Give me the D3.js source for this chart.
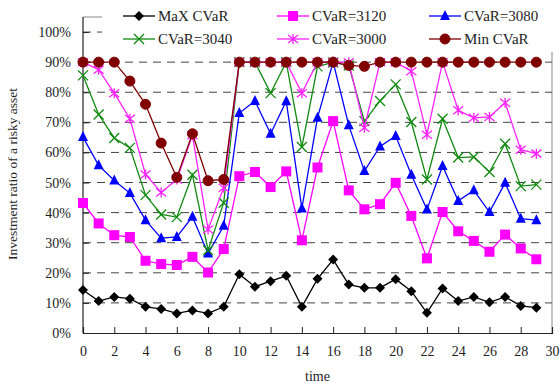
<!DOCTYPE html>
<html>
<head>
<meta charset="utf-8">
<script src="https://cdn.jsdelivr.net/npm/d3@7"></script>
<style>
  html, body { margin: 0; padding: 0; background: #fff; }
  svg { display: block; }
  text { font-family: "Liberation Serif", "DejaVu Serif", serif; fill: #222; }
</style>
</head>
<body>
<div id="chart"></div>
<script>
const time = d3.range(0, 30);
const seriesNames = ["MaX CVaR", "CVaR=3120", "CVaR=3080", "CVaR=3040", "CVaR=3000", "Min CVaR"];
const maxCVaR = [14.3, 10.6, 12.0, 11.4, 8.7, 8.0, 6.5, 7.5, 6.5, 8.7, 19.5, 15.4, 17.2, 19.0, 8.7, 18.0, 24.4, 16.1, 15.0, 15.0, 17.9, 13.9, 6.7, 14.8, 10.6, 12.0, 10.2, 12.0, 9.0, 8.4];
const cvar3120 = [43.2, 36.4, 32.5, 31.9, 24.0, 22.9, 22.6, 25.3, 20.1, 27.9, 52.1, 53.5, 48.5, 53.7, 30.8, 55.0, 70.4, 47.4, 41.1, 42.8, 49.9, 38.9, 24.8, 40.2, 33.8, 30.6, 27.0, 32.7, 28.1, 24.5];
const cvar3080 = [65.1, 55.7, 50.7, 46.5, 37.5, 31.5, 31.9, 38.6, 26.4, 35.6, 73.1, 77.1, 66.2, 77.0, 41.4, 71.5, 90.0, 69.0, 53.8, 62.0, 65.5, 52.6, 41.0, 55.5, 43.9, 47.4, 40.2, 49.9, 38.0, 37.5];
const cvar3040 = [85.6, 72.6, 64.8, 61.5, 45.8, 39.4, 38.5, 52.6, 27.5, 43.3, 90.0, 90.0, 79.7, 90.0, 61.8, 88.6, 89.9, 88.9, 70.4, 77.1, 82.6, 70.1, 51.0, 71.2, 58.3, 58.5, 53.5, 62.9, 48.8, 49.3];
const cvar3000 = [90.0, 87.5, 79.7, 71.2, 52.7, 46.7, 51.0, 65.7, 34.4, 48.3, 90.0, 90.0, 90.0, 90.0, 79.7, 90.0, 90.0, 90.0, 68.2, 90.0, 90.0, 87.0, 65.9, 90.0, 74.0, 71.5, 71.8, 76.5, 60.9, 59.6];
const minCVaR = [90.0, 90.0, 90.0, 83.7, 76.0, 63.1, 51.7, 66.2, 50.6, 51.0, 90.0, 90.0, 90.0, 90.0, 90.0, 90.0, 90.0, 88.9, 88.6, 90.0, 90.0, 90.0, 90.0, 90.0, 90.0, 90.0, 90.0, 90.0, 90.0, 90.0];
const xTicks = d3.range(0, 31, 2);
const yTicks = [0, 10, 20, 30, 40, 50, 60, 70, 80, 90, 100];

const colors = ["#000000", "#ff00ff", "#0000ff", "#108a10", "#ff22ff", "#800000"];
const symbols = ["diamond", "square", "triangle", "x", "asterisk", "circle"];
const allValues = [maxCVaR, cvar3120, cvar3080, cvar3040, cvar3000, minCVaR];

const W = 560, H = 385;
const m = { left: 83, right: 8, top: 17, bottom: 52 };
const svg = d3.select("#chart").append("svg").attr("width", W).attr("height", H);

const x = d3.scaleLinear().domain([0, 30]).range([m.left, W - m.right]);
const y = d3.scaleLinear().domain([0, 105]).range([H - m.bottom, m.top]);

// frame (top/right grey)
svg.append("line").attr("x1", x(0)).attr("x2", x(30)).attr("y1", y(105)).attr("y2", y(105)).attr("stroke", "#888").attr("stroke-width", 1);
svg.append("line").attr("x1", x(30)).attr("x2", x(30)).attr("y1", y(105)).attr("y2", y(0)).attr("stroke", "#888").attr("stroke-width", 1);

// gridlines
svg.append("g").selectAll("line").data(yTicks.filter(d => d > 0)).join("line")
  .attr("x1", x(0)).attr("x2", x(30))
  .attr("y1", d => y(d)).attr("y2", d => y(d))
  .attr("stroke", "#444").attr("stroke-width", 1).attr("stroke-dasharray", "8,6");

// axes
const xAxis = d3.axisBottom(x).tickValues(xTicks).tickSize(-6).tickPadding(13).tickFormat(d3.format("d"));
const gx = svg.append("g").attr("transform", `translate(0,${y(0)})`).call(xAxis);
gx.select(".domain").attr("stroke", "#222").attr("stroke-width", 1.2);
gx.selectAll(".tick line").attr("stroke", "#222");
gx.selectAll("text").style("font-size", "14px").attr("fill", "#222");

const yAxis = d3.axisLeft(y).tickValues(yTicks).tickSize(-6).tickPadding(12).tickFormat(d => d + "%");
const gy = svg.append("g").attr("transform", `translate(${x(0)},0)`).call(yAxis);
gy.select(".domain").attr("stroke", "#222").attr("stroke-width", 1.2).attr("d", `M0,${y(105)}V${y(0)}`);
gy.selectAll(".tick line").attr("stroke", "#222");
gy.selectAll("text").style("font-size", "14px").attr("fill", "#222");

// labels
svg.append("text").attr("x", (x(0) + x(30)) / 2).attr("y", 381).attr("text-anchor", "middle")
  .style("font-size", "14px").text("time");
svg.append("text").attr("transform", `translate(17,${174}) rotate(-90)`).attr("text-anchor", "middle")
  .style("font-size", "13.5px").text("Investment ratio of a risky asset");

function drawMarker(g, type, color, cx, cy) {
  if (type === "circle") {
    g.append("circle").attr("cx", cx).attr("cy", cy).attr("r", 5).attr("fill", color).attr("stroke", color);
  } else if (type === "square") {
    g.append("rect").attr("x", cx - 5).attr("y", cy - 5).attr("width", 10).attr("height", 10).attr("fill", color);
  } else if (type === "triangle") {
    g.append("path").attr("d", `M${cx},${cy - 6}L${cx + 5},${cy + 4}L${cx - 5},${cy + 4}Z`).attr("fill", color);
  } else if (type === "diamond") {
    g.append("path").attr("d", `M${cx},${cy - 5}L${cx + 5},${cy}L${cx},${cy + 5}L${cx - 5},${cy}Z`).attr("fill", color);
  } else if (type === "x") {
    g.append("path").attr("d", `M${cx - 5},${cy - 5}L${cx + 5},${cy + 5}M${cx - 5},${cy + 5}L${cx + 5},${cy - 5}`)
      .attr("stroke", color).attr("stroke-width", 1.3).attr("fill", "none");
  } else if (type === "asterisk") {
    g.append("path").attr("d", `M${cx - 5},${cy - 4}L${cx + 5},${cy + 4}M${cx - 5},${cy + 4}L${cx + 5},${cy - 4}M${cx},${cy - 5}L${cx},${cy + 5}`)
      .attr("stroke", color).attr("stroke-width", 1.3).attr("fill", "none");
  }
}

const line = d3.line().x((d, i) => x(time[i])).y(d => y(d));
allValues.forEach((vals, k) => {
  const g = svg.append("g");
  g.append("path").datum(vals).attr("d", line).attr("fill", "none")
    .attr("stroke", colors[k]).attr("stroke-width", 1.3);
  vals.forEach((v, i) => drawMarker(g, symbols[k], colors[k], x(time[i]), y(v)));
});

// legend
const lg = svg.append("g");
lg.append("rect").attr("x", 102).attr("y", 0).attr("width", 454).attr("height", 52).attr("fill", "#fff");
const colX = [123, 277, 429];
const rowY = [16, 39];
seriesNames.forEach((name, k) => {
  const cx = colX[k % 3], cy = rowY[Math.floor(k / 3)];
  lg.append("line").attr("x1", cx).attr("x2", cx + 32).attr("y1", cy).attr("y2", cy)
    .attr("stroke", colors[k]).attr("stroke-width", 1.3);
  drawMarker(lg, symbols[k], colors[k], cx + 16, cy);
  lg.append("text").attr("x", cx + 35).attr("y", cy).attr("dy", "0.35em")
    .style("font-size", "15px").text(name);
});
</script>
</body>
</html>
